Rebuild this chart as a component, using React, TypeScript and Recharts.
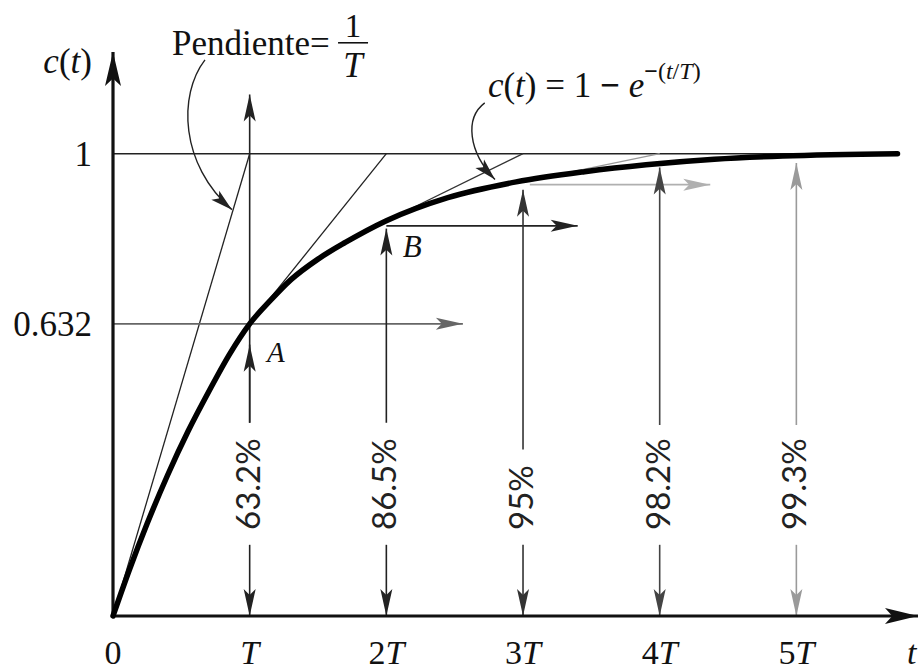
import React from 'react';
import { ComposedChart, Line, XAxis, YAxis, ReferenceLine, ReferenceDot } from 'recharts';

// step response c(t) (t in units of T)
const tValues = [0, 0.12, 0.25, 0.4, 0.55, 0.7, 0.85, 1, 1.15, 1.3, 1.5, 1.7, 2, 2.45, 2.95, 3.45, 3.9, 4.4, 4.9, 5.74];
const cValues = [0, 0.1, 0.2, 0.305, 0.4, 0.485, 0.565, 0.632, 0.682, 0.727, 0.772, 0.808, 0.855, 0.905, 0.939, 0.961, 0.976, 0.988, 0.995, 1.0];

const xTicks = [0, 1, 2, 3, 4, 5];
const xTickLabels = ['0', 'T', '2T', '3T', '4T', '5T'];
const yTicks = [0.632, 1];
const yTickLabels = ['0.632', '1'];

// vertical markers at T..5T
const markT = [1, 2, 3, 4, 5];
const markPct = ['63.2%', '86.5%', '95%', '98.2%', '99.3%'];
const markTip = [1.128, 0.838, 0.922, 0.97, 0.98];
const markTop = [0.418, 0.418, 0.36, 0.413, 0.413];
const markColor = ['#222', '#222', '#333', '#444', '#9a9a9a'];

// horizontal arrows
const hLevel = [0.632, 0.844, 0.933];
const hFrom = [0, 2, 3.05];
const hTo = [2.56, 3.4, 4.37];
const hColor = ['#666', '#222', '#b0b0b0'];

// tangent lines reaching the final value one T later
const tanFromT = [0, 1, 2, 3];
const tanFromC = [0, 0.632, 0.855, 0.939];
const tanColor = ['#222', '#222', '#333', '#999'];

const curveData = tValues.map((t, i) => ({ t, c: cValues[i] }));

const SERIF = "'Liberation Serif', 'DejaVu Serif', serif";
const SANS = "Lato, 'Open Sans', sans-serif";

function head(x: number, y: number, dx: number, dy: number, len: number, half: number, color: string) {
  const d = Math.hypot(dx, dy) || 1;
  const ux = dx / d, uy = dy / d;
  const px = -uy, py = ux;
  const bx = x - ux * len, by = y - uy * len;
  const nx = x - ux * len * 0.78, ny = y - uy * len * 0.78;
  const pts = [[x, y], [bx + px * half, by + py * half], [nx, ny], [bx - px * half, by - py * half]];
  return <polygon points={pts.map((p) => p.join(',')).join(' ')} fill={color} />;
}

const arrow = (color: string, width: number, len: number, half: number) => (p: any) => (
  <g>
    <line x1={p.x1} y1={p.y1} x2={p.x2} y2={p.y2} stroke={color} strokeWidth={width} />
    {head(p.x2, p.y2, p.x2 - p.x1, p.y2 - p.y1, len, half, color)}
  </g>
);

const plain = (color: string, width: number) => (p: any) => (
  <line x1={p.x1} y1={p.y1} x2={p.x2} y2={p.y2} stroke={color} strokeWidth={width} />
);

// curved leader: bezier bending left, arrowhead at the end point
const leader = (c1: number[], c2: number[]) => (p: any) => {
  const a = [p.x1 + c1[0], p.y1 + c1[1]];
  const b = [p.x2 + c2[0], p.y2 + c2[1]];
  return (
    <g>
      <path d={`M${p.x1},${p.y1} C${a[0]},${a[1]} ${b[0]},${b[1]} ${p.x2},${p.y2}`} fill="none" stroke="#222" strokeWidth={1.4} />
      {head(p.x2, p.y2, -c2[0], -c2[1], 22, 6, '#222')}
    </g>
  );
};

const XTick = (props: any) => {
  const { x, y, payload } = props;
  const label = xTickLabels[xTicks.indexOf(payload.value)] ?? '';
  const num = label.replace('T', '');
  return (
    <text x={x} y={y + 48} textAnchor="middle" fontFamily={SERIF} fontSize={34} fill="#111">
      {num && <tspan>{num}</tspan>}
      {label.includes('T') && <tspan fontStyle="italic">T</tspan>}
    </text>
  );
};

const YTick = (props: any) => {
  const { x, y, payload } = props;
  const label = yTickLabels[yTicks.indexOf(payload.value)] ?? '';
  return (
    <text x={x - 21} y={y + 12} textAnchor="end" fontFamily={SERIF} fontSize={35} fill="#111">
      {label}
    </text>
  );
};

export default function App() {
  return (
    <div style={{ position: 'fixed', left: 0, top: 0, width: 922, height: 672, background: '#fff' }}>
      <ComposedChart width={922} height={672} data={curveData} margin={{ top: 52, right: 4, bottom: 6, left: 13 }}>
        <XAxis dataKey="t" type="number" domain={[0, 5.89]} ticks={xTicks} interval={0}
          axisLine={false} tickLine={false} tickSize={0} tickMargin={0} height={50} tick={<XTick />} />
        <YAxis type="number" domain={[0, 1.22]} ticks={yTicks} interval={0}
          axisLine={false} tickLine={false} tickSize={0} tickMargin={0} width={100} tick={<YTick />} />

        {/* final value line */}
        <ReferenceLine segment={[{ x: 0, y: 1 }, { x: 5.74, y: 1 }]} ifOverflow="visible" shape={plain('#222', 1.6)} />

        {/* tangents */}
        {tanFromT.map((t, i) => (
          <ReferenceLine key={'tan' + i} segment={[{ x: t, y: tanFromC[i] }, { x: t + 1, y: 1 }]}
            ifOverflow="visible" shape={plain(tanColor[i], 1.3)} />
        ))}

        {/* horizontal arrows */}
        {hLevel.map((lv, i) => (
          <ReferenceLine key={'h' + i} segment={[{ x: hFrom[i], y: lv }, { x: hTo[i], y: lv }]}
            ifOverflow="visible" shape={arrow(hColor[i], 1.8, 27, 6)} />
        ))}

        {/* vertical markers */}
        {markT.map((t, i) => (
          <ReferenceLine key={'vu' + i} segment={[{ x: t, y: markTop[i] }, { x: t, y: markTip[i] }]}
            ifOverflow="visible" shape={arrow(markColor[i], 1.6, 27, 6)} />
        ))}
        {markT.map((t, i) => (
          <ReferenceLine key={'vd' + i} segment={[{ x: t, y: 0.154 }, { x: t, y: 0 }]}
            ifOverflow="visible" shape={arrow(markColor[i], 1.6, 27, 6)} />
        ))}
        <ReferenceLine segment={[{ x: 1, y: 0.418 }, { x: 1, y: 0.587 }]} ifOverflow="visible" shape={arrow('#222', 1.6, 27, 6)} />
        {markT.map((t, i) => (
          <ReferenceDot key={'pct' + i} x={t} y={0.186} ifOverflow="visible"
            shape={(p: any) => (
              <text transform={`translate(${p.cx + 10},${p.cy}) rotate(-90)`} textAnchor="start"
                fontFamily={SANS} fontSize={33} fill="#222">{markPct[i]}</text>
            )} />
        ))}

        {/* axes with arrowheads */}
        <ReferenceLine segment={[{ x: 0, y: 0 }, { x: 0, y: 1.22 }]} ifOverflow="visible" shape={arrow('#111', 3.2, 34, 8)} />
        <ReferenceLine segment={[{ x: 0, y: 0 }, { x: 5.89, y: 0 }]} ifOverflow="visible" shape={arrow('#111', 3.2, 33, 8)} />

        {/* leaders */}
        <ReferenceLine segment={[{ x: 0.673, y: 1.203 }, { x: 0.87, y: 0.879 }]} ifOverflow="visible"
          shape={leader([-27, 35], [-52, -45])} />
        <ReferenceLine segment={[{ x: 2.72, y: 1.11 }, { x: 2.795, y: 0.944 }]} ifOverflow="visible"
          shape={leader([-20, 15], [-27, -28])} />

        <Line dataKey="c" type="monotone" stroke="#000" strokeWidth={5.5} strokeLinecap="round"
          dot={false} activeDot={false} isAnimationActive={false} />

        {/* text annotations */}
        <ReferenceDot x={-0.154} y={1.175} ifOverflow="visible" shape={(p: any) => (
          <text x={p.cx} y={p.cy} textAnchor="end" fontFamily={SERIF} fontSize={35} fill="#111">
            <tspan fontStyle="italic">c</tspan>(<tspan fontStyle="italic">t</tspan>)
          </text>
        )} />
        <ReferenceDot x={5.81} y={-0.104} ifOverflow="visible" shape={(p: any) => (
          <text x={p.cx} y={p.cy} fontFamily={SERIF} fontSize={34} fontStyle="italic" fill="#111">t</text>
        )} />
        <ReferenceDot x={1.127} y={0.55} ifOverflow="visible" shape={(p: any) => (
          <text x={p.cx} y={p.cy} fontFamily={SERIF} fontSize={29} fontStyle="italic" fill="#111">A</text>
        )} />
        <ReferenceDot x={2.12} y={0.777} ifOverflow="visible" shape={(p: any) => (
          <text x={p.cx} y={p.cy} fontFamily={SERIF} fontSize={31} fontStyle="italic" fill="#111">B</text>
        )} />
        <ReferenceDot x={0.432} y={1.214} ifOverflow="visible" shape={(p: any) => (
          <g fontFamily={SERIF} fill="#111">
            <text x={p.cx} y={p.cy} fontSize={35}>Pendiente=</text>
            <text x={p.cx + 181} y={p.cy - 18} fontSize={33} textAnchor="middle">1</text>
            <line x1={p.cx + 166} y1={p.cy - 12} x2={p.cx + 196} y2={p.cy - 12} stroke="#111" strokeWidth={1.6} />
            <text x={p.cx + 181} y={p.cy + 22} fontSize={35} fontStyle="italic" textAnchor="middle">T</text>
          </g>
        )} />
        <ReferenceDot x={2.743} y={1.123} ifOverflow="visible" shape={(p: any) => (
          <text x={p.cx} y={p.cy} fontFamily={SERIF} fontSize={35} fill="#111">
            <tspan fontStyle="italic">c</tspan>(<tspan fontStyle="italic">t</tspan>) = 1 <tspan fontWeight="bold">−</tspan> <tspan fontStyle="italic">e</tspan>
            <tspan dy={-18} fontSize={24}><tspan fontWeight="bold">−</tspan>(<tspan fontStyle="italic">t</tspan>/<tspan fontStyle="italic">T</tspan>)</tspan>
          </text>
        )} />
      </ComposedChart>
    </div>
  );
}
